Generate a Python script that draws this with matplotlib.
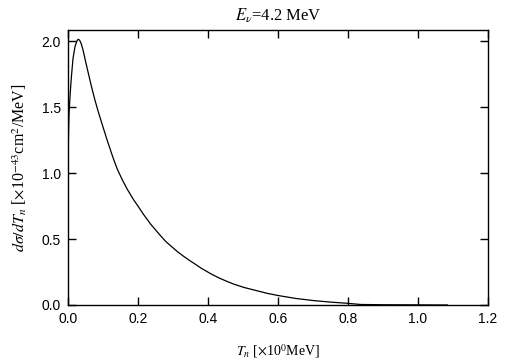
import matplotlib
matplotlib.use("Agg")
import matplotlib.pyplot as plt

# values
t_n = [0.0, 0.001, 0.002, 0.003, 0.005, 0.0075, 0.0097, 0.0143, 0.02, 0.025,
       0.0286, 0.033, 0.038, 0.043, 0.05, 0.057, 0.065, 0.071, 0.078, 0.086,
       0.093, 0.1, 0.1126, 0.122, 0.131, 0.141, 0.155, 0.17, 0.187, 0.2,
       0.215, 0.236, 0.25, 0.2646, 0.28, 0.293, 0.3125, 0.33, 0.35, 0.36,
       0.38, 0.408, 0.43, 0.455, 0.474, 0.503, 0.54, 0.57, 0.598, 0.65,
       0.7, 0.75, 0.798, 0.836, 0.9, 1.0, 1.084]
dsigma = [0.98, 1.22, 1.36, 1.45, 1.55, 1.65, 1.73, 1.87, 1.96, 2.0,
          2.015, 2.01, 1.98, 1.934, 1.85, 1.77, 1.68, 1.615, 1.545, 1.47,
          1.41, 1.35, 1.245, 1.17, 1.10, 1.03, 0.95, 0.875, 0.80, 0.75,
          0.69, 0.614, 0.57, 0.525, 0.48, 0.45, 0.405, 0.37, 0.333, 0.316,
          0.28, 0.237, 0.207, 0.178, 0.158, 0.133, 0.108, 0.088, 0.073, 0.05,
          0.034, 0.022, 0.013, 0.004, 0.002, 0.001, 0.0]

x_ticks = [0.0, 0.2, 0.4, 0.6, 0.8, 1.0, 1.2]
y_ticks = [0.0, 0.5, 1.0, 1.5, 2.0]

plt.rcParams["mathtext.fontset"] = "stix"


def main():
    fig = plt.figure(figsize=(5.05, 3.61), dpi=100)
    ax = fig.add_axes([68 / 505, (361 - 305) / 361, 420 / 505, 275 / 361])

    ax.plot(t_n, dsigma, c="k", lw=0.9)

    ax.set_xlim(0, 1.2)
    ax.set_ylim(0, 2.086)
    ax.set_xticks(x_ticks)
    ax.set_yticks(y_ticks)
    ax.set_xticklabels([f"{v:.1f}" for v in x_ticks], family="Liberation Sans")
    ax.set_yticklabels([f"{v:.1f}" for v in y_ticks], family="Liberation Sans")
    ax.tick_params(direction="in", length=5.5, width=1, top=True, right=True,
                   labelsize=10, pad=5)
    for s in ax.spines.values():
        s.set_linewidth(1)

    ax.set_title(r"$E_\nu$=4.2 MeV", family="Liberation Serif", fontsize=12, pad=7)
    ax.set_xlabel(r"$T_n$ [$\times$10$^0$MeV]", family="Liberation Serif",
                  fontsize=10, labelpad=12)
    ax.set_ylabel(r"$d\sigma/dT_n$ [$\times$10$^{-43}$cm$^2$/MeV]",
                  family="Liberation Serif", fontsize=11.5, labelpad=9)

    fig.savefig("out.png", dpi=100)


if __name__ == "__main__":
    main()
